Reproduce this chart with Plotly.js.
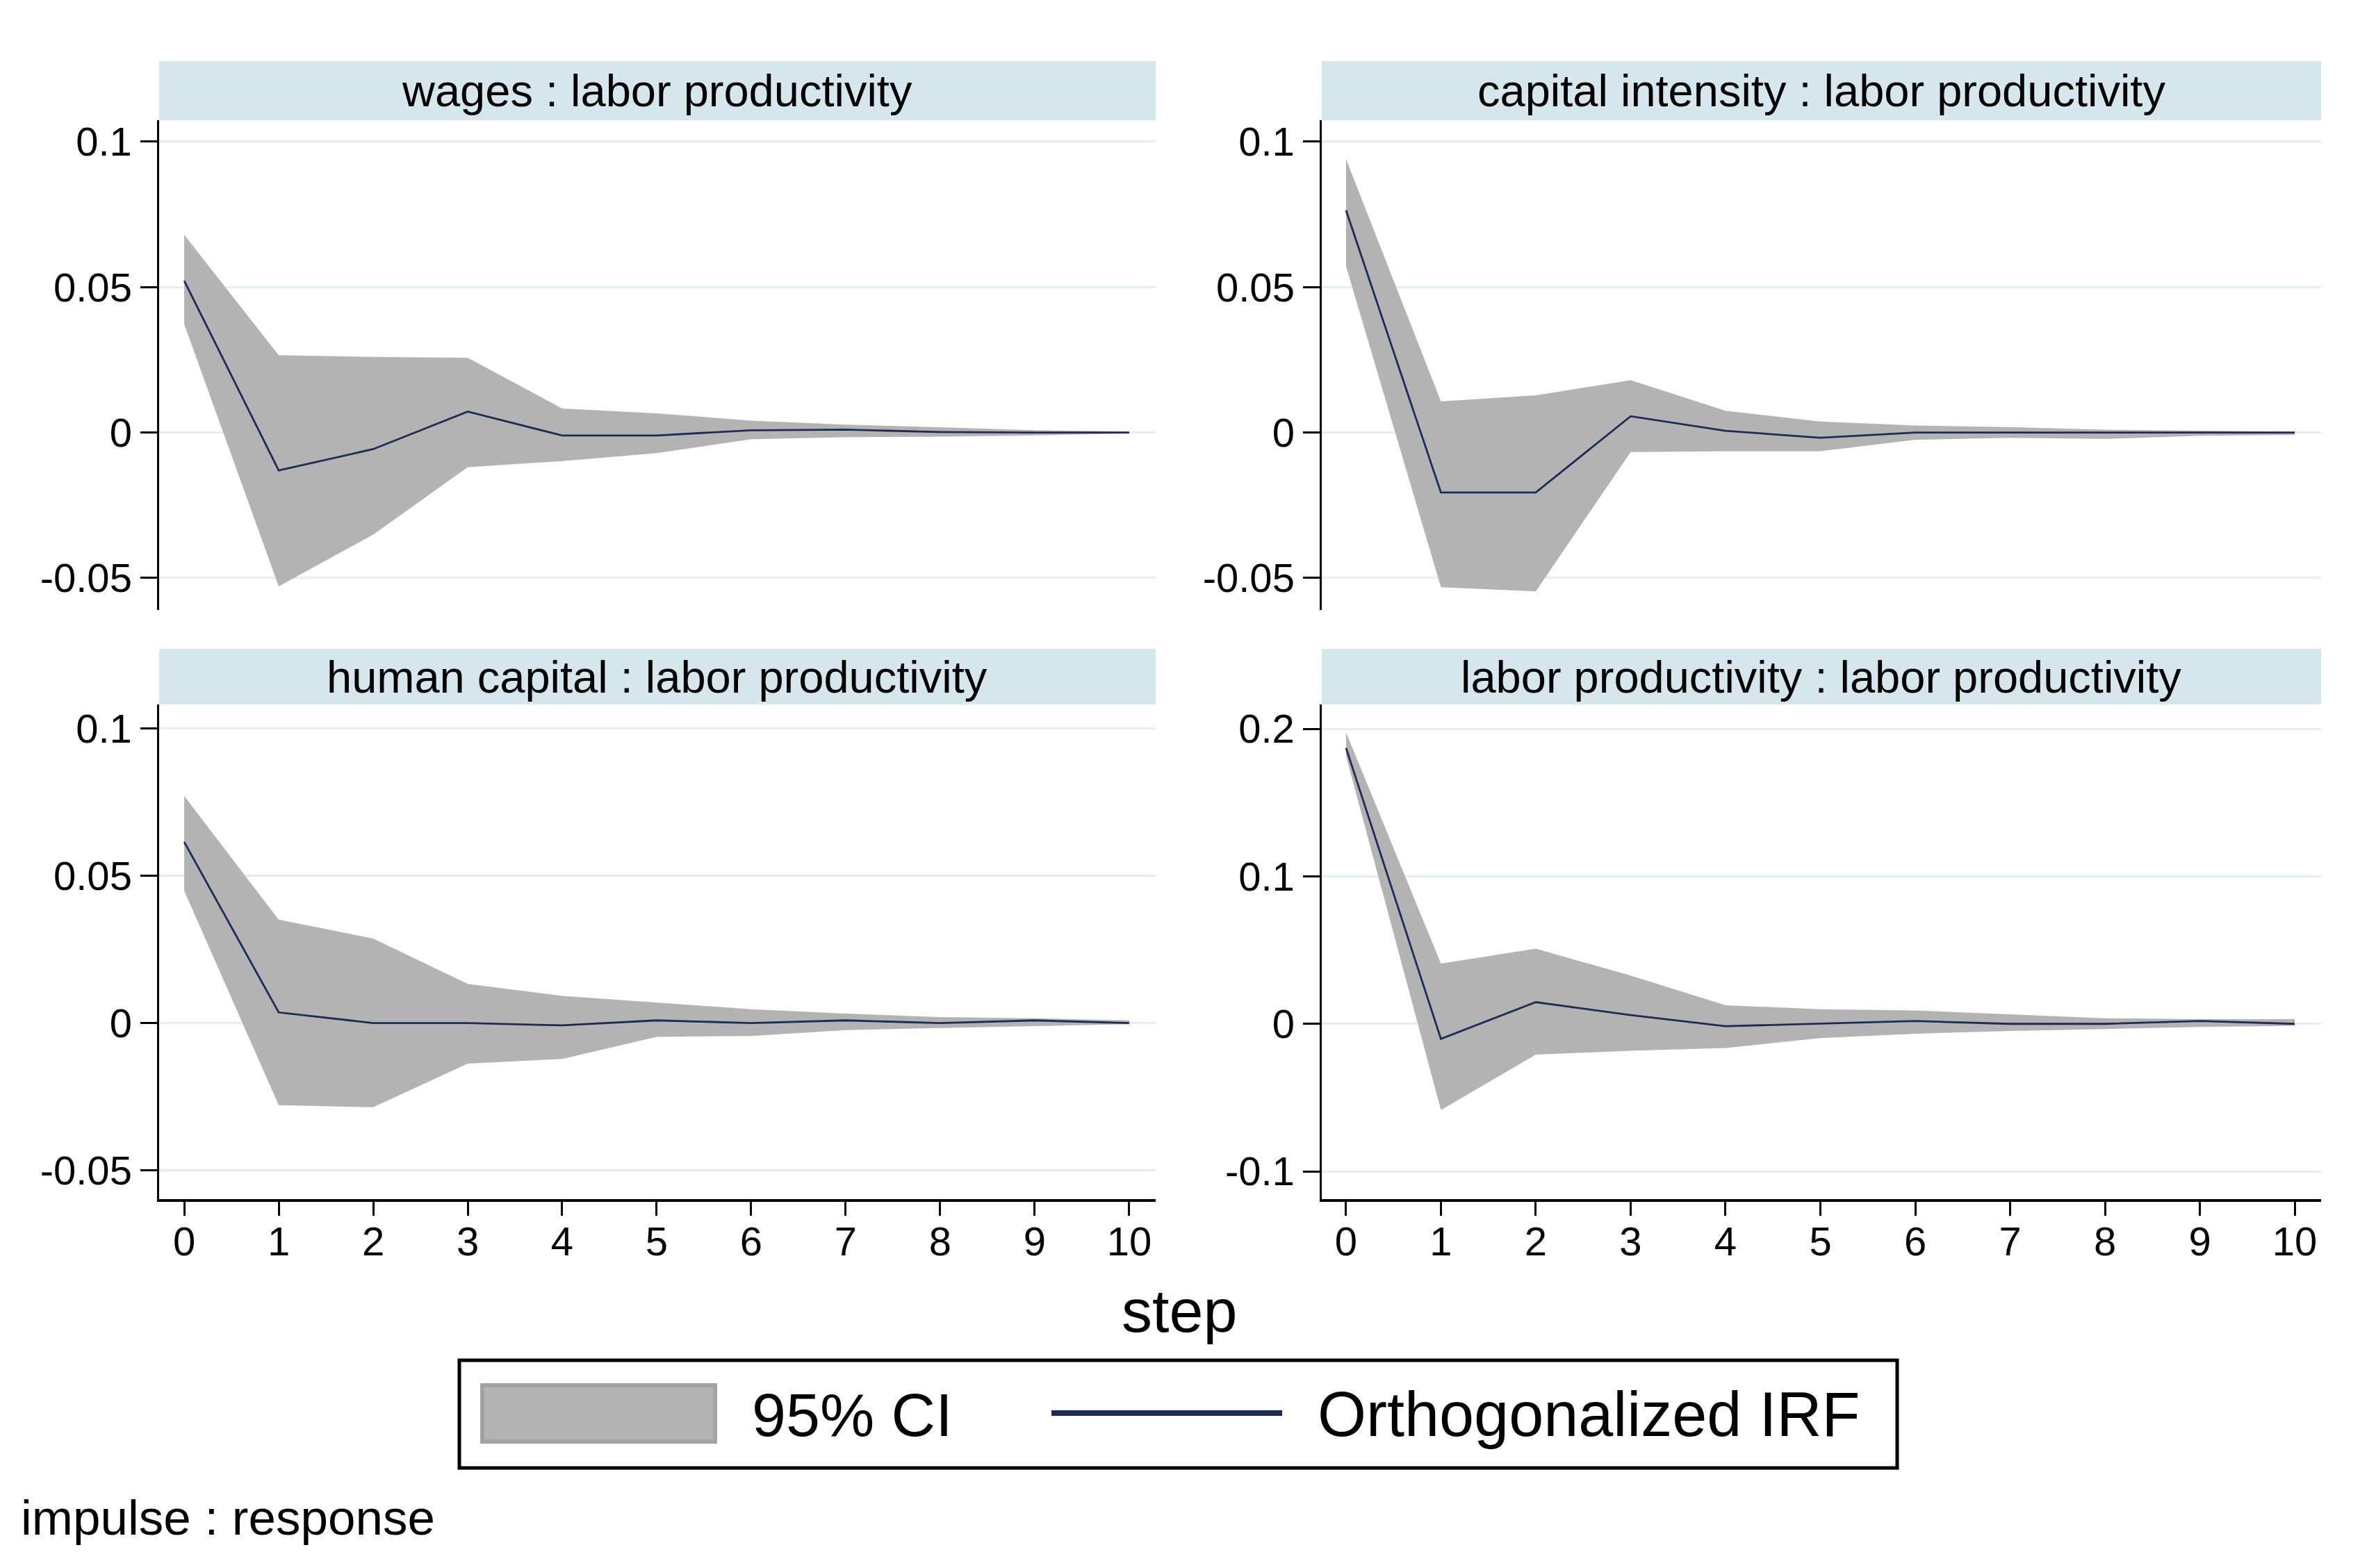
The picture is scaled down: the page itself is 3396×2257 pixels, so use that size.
<!DOCTYPE html>
<html>
<head>
<meta charset="utf-8">
<script src="https://cdn.plot.ly/plotly-3.0.1.min.js"></script>
<style>html,body{margin:0;padding:0;background:#fff;}#chart{width:3396px;height:2257px;}</style>
</head>
<body>
<div id="chart"></div>
<script>
const steps = [0,1,2,3,4,5,6,7,8,9,10];

const panelTitles = [
  "wages : labor productivity",
  "capital intensity : labor productivity",
  "human capital : labor productivity",
  "labor productivity : labor productivity"
];

// wages : labor productivity
const wagesIRF   = [0.0522, -0.0130, -0.0057, 0.0072, -0.0010, -0.0010, 0.0008, 0.0010, 0.0002, 0.0000, 0.0000];
const wagesUpper = [0.0680, 0.0266, 0.0260, 0.0257, 0.0083, 0.0066, 0.0041, 0.0027, 0.0018, 0.0008, 0.0004];
const wagesLower = [0.0373, -0.0529, -0.0351, -0.0119, -0.0098, -0.0071, -0.0023, -0.0016, -0.0014, -0.0010, -0.0003];

// capital intensity : labor productivity
const capIRF   = [0.0764, -0.0206, -0.0206, 0.0056, 0.0006, -0.0018, 0.0000, 0.0000, 0.0000, 0.0000, 0.0000];
const capUpper = [0.0940, 0.0107, 0.0128, 0.0180, 0.0075, 0.0038, 0.0024, 0.0019, 0.0010, 0.0006, 0.0003];
const capLower = [0.0572, -0.0532, -0.0546, -0.0067, -0.0064, -0.0064, -0.0025, -0.0018, -0.0022, -0.0011, -0.0008];

// human capital : labor productivity
const hcIRF   = [0.0615, 0.0036, 0.0000, 0.0000, -0.0008, 0.0009, 0.0000, 0.0009, 0.0000, 0.0009, 0.0000];
const hcUpper = [0.0771, 0.0351, 0.0287, 0.0133, 0.0092, 0.0070, 0.0047, 0.0032, 0.0020, 0.0016, 0.0009];
const hcLower = [0.0449, -0.0279, -0.0286, -0.0138, -0.0122, -0.0047, -0.0044, -0.0024, -0.0017, -0.0011, -0.0004];

// labor productivity : labor productivity
const lpIRF   = [0.1870, -0.0102, 0.0147, 0.0059, -0.0016, 0.0000, 0.0019, 0.0000, 0.0000, 0.0019, 0.0000];
const lpUpper = [0.1976, 0.0408, 0.0510, 0.0327, 0.0126, 0.0099, 0.0091, 0.0064, 0.0038, 0.0032, 0.0032];
const lpLower = [0.1815, -0.0584, -0.0209, -0.0182, -0.0164, -0.0097, -0.0067, -0.0048, -0.0035, -0.0021, -0.0013];

const smallTicks = [-0.05, 0, 0.05, 0.1];
const smallTickText = ["-0.05", "0", "0.05", "0.1"];
const bigTicks = [-0.1, 0, 0.1, 0.2];
const bigTickText = ["-0.1", "0", "0.1", "0.2"];
const xTickText = ["0","1","2","3","4","5","6","7","8","9","10"];

const legendCI = "95% CI";
const legendIRF = "Orthogonalized IRF";
const xTitle = "step";
const noteText = "impulse : response";

const bandColor = "#b3b3b3";
const lineColor = "#1b2d57";
const headerColor = "#d5e6ec";
const gridColor = "#e6eef0";
const FONT = "Liberation Sans, Arial, sans-serif";

const series = [
  {irf: wagesIRF, up: wagesUpper, lo: wagesLower},
  {irf: capIRF, up: capUpper, lo: capLower},
  {irf: hcIRF, up: hcUpper, lo: hcLower},
  {irf: lpIRF, up: lpUpper, lo: lpLower}
];

const W = 3396, H = 2257;
const px = v => v / W;
const py = v => 1 - v / H;

const xDomains = [[px(229), px(1663)], [px(1902), px(3340)]];
const yDomains = [[py(878), py(173)], [py(1726), py(1014)]];
const headerY = [[py(173), py(88)], [py(1014), py(934)]];

const yRanges = [[-0.061, 0.1074], [-0.061, 0.1074], [-0.0598, 0.1082], [-0.1188, 0.2165]];
const xRanges = [[-0.265, 10.28], [-0.256, 10.278]];

const traces = [];
const layout = {
  width: W, height: H,
  margin: {l: 0, r: 0, t: 0, b: 0},
  paper_bgcolor: "#ffffff",
  plot_bgcolor: "#ffffff",
  showlegend: false,
  font: {family: FONT, color: "#000"},
  shapes: [],
  annotations: []
};

series.forEach((s, i) => {
  const n = i + 1;
  const xa = n === 1 ? "x" : "x" + n;
  const ya = n === 1 ? "y" : "y" + n;
  traces.push({x: steps, y: s.lo, xaxis: xa, yaxis: ya, type: "scatter", mode: "lines",
    line: {width: 0, color: bandColor}, hoverinfo: "skip"});
  traces.push({x: steps, y: s.up, xaxis: xa, yaxis: ya, type: "scatter", mode: "lines",
    line: {width: 0, color: bandColor}, fill: "tonexty", fillcolor: bandColor, hoverinfo: "skip"});
  traces.push({x: steps, y: s.irf, xaxis: xa, yaxis: ya, type: "scatter", mode: "lines",
    line: {width: 2.8, color: lineColor}});

  const col = i % 2, row = Math.floor(i / 2);
  const bottom = row === 1;
  layout["xaxis" + (n === 1 ? "" : n)] = {
    domain: xDomains[col], anchor: ya, range: xRanges[col],
    tickvals: steps, ticktext: xTickText,
    showgrid: false, zeroline: false,
    showline: bottom, linecolor: "#000", linewidth: 3.5,
    ticks: bottom ? "outside" : "", ticklen: 20, tickwidth: 3, tickcolor: "#000",
    ticklabelstandoff: bottom ? -12 : 0,
    showticklabels: bottom, tickfont: {family: FONT, size: 58, color: "#000"}
  };
  layout["yaxis" + (n === 1 ? "" : n)] = {
    domain: yDomains[row], anchor: xa, range: yRanges[i],
    tickvals: i === 3 ? bigTicks : smallTicks,
    ticktext: i === 3 ? bigTickText : smallTickText,
    showgrid: true, gridcolor: gridColor, gridwidth: 3, zeroline: false,
    showline: true, linecolor: "#000", linewidth: 3.5,
    ticks: "outside", ticklen: 24, tickwidth: 3, tickcolor: "#000",
    tickfont: {family: FONT, size: 58, color: "#000"}
  };

  layout.shapes.push({type: "rect", xref: "paper", yref: "paper",
    x0: xDomains[col][0], x1: xDomains[col][1], y0: headerY[row][0], y1: headerY[row][1],
    fillcolor: headerColor, line: {width: 0}, layer: "below"});
  layout.annotations.push({xref: "paper", yref: "paper",
    x: (xDomains[col][0] + xDomains[col][1]) / 2, y: (headerY[row][0] + headerY[row][1]) / 2,
    xanchor: "center", yanchor: "middle", showarrow: false, text: panelTitles[i],
    font: {family: FONT, size: 65, color: "#000"}});
});

// x title
layout.annotations.push({xref: "paper", yref: "paper", x: px(1697), y: py(1886),
  xanchor: "center", yanchor: "middle", showarrow: false, text: xTitle,
  font: {family: FONT, size: 88, color: "#000"}});

// legend box
layout.shapes.push({type: "rect", xref: "paper", yref: "paper",
  x0: px(661), x1: px(2730), y0: py(2113), y1: py(1958),
  fillcolor: "rgba(0,0,0,0)", line: {color: "#000", width: 5}});
layout.shapes.push({type: "rect", xref: "paper", yref: "paper",
  x0: px(694), x1: px(1029), y0: py(2075), y1: py(1994),
  fillcolor: bandColor, line: {color: "#a2a2a2", width: 6}});
layout.shapes.push({type: "line", xref: "paper", yref: "paper",
  x0: px(1513), x1: px(1845), y0: py(2034), y1: py(2034),
  line: {color: lineColor, width: 8}});
layout.annotations.push({xref: "paper", yref: "paper", x: px(1080), y: py(2036),
  xanchor: "left", yanchor: "middle", showarrow: false, text: legendCI,
  font: {family: FONT, size: 88, color: "#000"}});
layout.annotations.push({xref: "paper", yref: "paper", x: px(1894), y: py(2036),
  xanchor: "left", yanchor: "middle", showarrow: false, text: legendIRF,
  font: {family: FONT, size: 90, color: "#000"}});

// note
layout.annotations.push({xref: "paper", yref: "paper", x: px(28), y: py(2184),
  xanchor: "left", yanchor: "middle", showarrow: false, text: noteText,
  font: {family: FONT, size: 71, color: "#000"}});

Plotly.newPlot("chart", traces, layout, {staticPlot: true, displayModeBar: false});
</script>
</body>
</html>
